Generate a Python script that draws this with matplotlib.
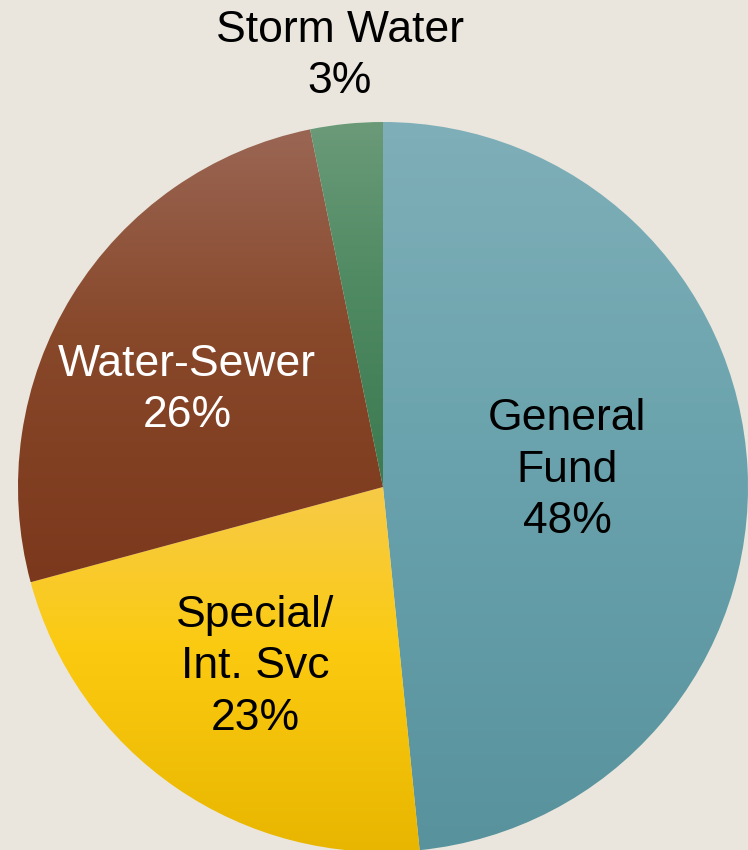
import numpy as np
import matplotlib.pyplot as plt
from matplotlib.colors import LinearSegmentedColormap

plt.rcParams['font.family'] = ['Liberation Sans', 'DejaVu Sans']

categories = ["General Fund", "Special/Int. Svc", "Water-Sewer", "Storm Water"]
values = [48.4, 22.4, 26.0, 3.2]
label_texts = ["General\nFund\n48%", "Special/\nInt. Svc\n23%", "Water-Sewer\n26%", "Storm Water\n3%"]

# gradient colours per slice, top -> middle -> bottom
top_colors = ["#7FAFB8", "#F7CB48", "#9A6654", "#6B9A79"]
mid_colors = ["#6AA3AD", "#FBCA10", "#88482A", "#4F8A62"]
bottom_colors = ["#58929C", "#E8B600", "#7C381C", "#3D7A50"]
text_colors = ["black", "black", "white", "black"]

BG = "#EAE6DD"


def main():
    fig = plt.figure(figsize=(7.48, 8.5), dpi=100, facecolor=BG)
    ax = fig.add_axes([0, 0, 1, 1])
    ax.set_facecolor(BG)

    wedges, _ = ax.pie(values, startangle=90, counterclock=False,
                       center=(383, 363), radius=365, frame=True)
    ax.set_xlim(0, 748)
    ax.set_ylim(0, 850)
    ax.axis("off")

    grad = np.linspace(1, 0, 256).reshape(-1, 1)
    for w, c0, cm, c1 in zip(wedges, top_colors, mid_colors, bottom_colors):
        w.set_facecolor("none")
        w.set_edgecolor("none")
        bb = w.get_path().get_extents(w.get_patch_transform())
        cmap = LinearSegmentedColormap.from_list("g", [(0, c1), (0.55, cm), (1, c0)])
        im = ax.imshow(grad, cmap=cmap, aspect="auto", origin="upper",
                       extent=(bb.x0, bb.x1, bb.y0, bb.y1), zorder=1,
                       interpolation="bilinear")
        im.set_clip_path(w)

    # labels
    positions = [(567, 380), (255, 183), (187, 460), (340, 794)]
    for txt, (x, y), col in zip(label_texts, positions, text_colors):
        ax.text(x, y, txt, ha="center", va="center", fontsize=32,
                color=col, linespacing=1.32, zorder=3)

    ax.set_xlim(0, 748)
    ax.set_ylim(0, 850)
    fig.savefig("out.png", dpi=100, facecolor=BG)


if __name__ == "__main__":
    main()
